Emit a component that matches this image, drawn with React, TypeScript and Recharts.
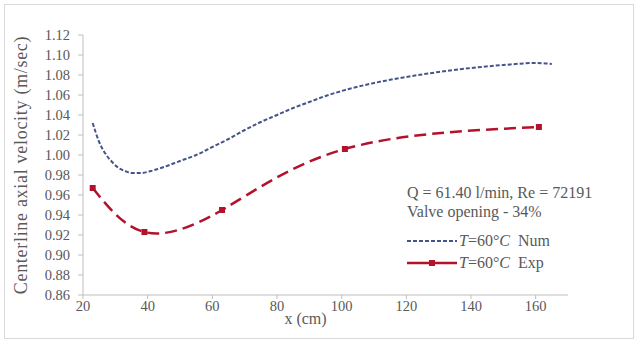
import React from "react";
import { Line, LineChart, XAxis, YAxis } from "recharts";

// numerical prediction (dashed blue)
const numX = [23, 25, 27, 29, 31, 33, 35, 38, 41, 45, 50, 55, 60, 65, 70, 75, 80, 85, 90, 95, 100, 110, 120, 130, 140, 150, 160, 165];
const numV = [1.032, 1.013, 1.001, 0.993, 0.987, 0.984, 0.982, 0.982, 0.984, 0.988, 0.994, 1.0, 1.008, 1.016, 1.025, 1.033, 1.04, 1.047, 1.053, 1.059, 1.064, 1.072, 1.078, 1.083, 1.087, 1.09, 1.092, 1.091];

// experiment (red, markers)
const expX = [23, 39, 63, 101, 161];
const expV = [0.967, 0.923, 0.945, 1.006, 1.028];

const xTicks = [20, 40, 60, 80, 100, 120, 140, 160];
const yTicks = [0.86, 0.88, 0.9, 0.92, 0.94, 0.96, 0.98, 1.0, 1.02, 1.04, 1.06, 1.08, 1.1, 1.12];

const numData = numX.map((x, i) => ({ x, v: numV[i] }));
const expData = expX.map((x, i) => ({ x, v: expV[i] }));

const FONT = '"Liberation Serif", serif';
const TEXT = "#595959";
const AXIS = "#bfbfbf";
const BLUE = "#45558a";
const RED = "#b3122c";

const Square = (props: any) => {
  const { cx, cy, index } = props;
  return <rect key={`m-${index}`} x={cx - 3} y={cy - 3} width={6} height={6} fill={RED} />;
};

// annotation + legend box, placed over the plot like in the original
const Note = () => (
  <div
    style={{
      position: "absolute",
      left: 407,
      top: 183,
      fontFamily: FONT,
      fontSize: 16,
      color: TEXT,
      lineHeight: "19px",
      whiteSpace: "nowrap",
    }}
  >
    <div>Q = 61.40 l/min, Re = 72191</div>
    <div>Valve opening - 34%</div>
    <div style={{ display: "flex", alignItems: "center", marginTop: 10 }}>
      <svg width={50} height={8}>
        <line x1={0} y1={4} x2={50} y2={4} stroke={BLUE} strokeWidth={2} strokeDasharray="4 2" />
      </svg>
      <span style={{ marginLeft: 2 }}>
        <i>T</i>=60°<i>C</i>&nbsp; Num
      </span>
    </div>
    <div style={{ display: "flex", alignItems: "center", marginTop: 3 }}>
      <svg width={50} height={8}>
        <line x1={0} y1={4} x2={50} y2={4} stroke={RED} strokeWidth={2.5} />
        <rect x={22} y={1} width={6} height={6} fill={RED} />
      </svg>
      <span style={{ marginLeft: 2 }}>
        <i>T</i>=60°<i>C</i>&nbsp; Exp
      </span>
    </div>
  </div>
);

export default function App() {
  return (
    <div style={{ position: "absolute", left: 0, top: 0, width: 638, height: 344, background: "#fff" }}>
      <div
        style={{
          position: "absolute",
          left: 4,
          top: 4,
          width: 628,
          height: 333,
          border: "1px solid #d9d9d9",
        }}
      />
      <LineChart
        width={638}
        height={344}
        margin={{ top: 35, right: 70, left: 38, bottom: 19 }}
        style={{ fontFamily: FONT }}
      >
        <XAxis
          dataKey="x"
          type="number"
          domain={[20, 170]}
          ticks={xTicks}
          allowDataOverflow
          height={30}
          tick={{ fontSize: 14.5, fill: TEXT }}
          tickSize={4}
          stroke={AXIS}
          label={{ value: "x (cm)", position: "insideBottom", offset: 1, dx: -20, fill: TEXT, fontSize: 16 }}
        />
        <YAxis
          type="number"
          domain={[0.86, 1.12]}
          ticks={yTicks}
          interval={0}
          width={45}
          tick={{ fontSize: 14.5, fill: TEXT }}
          tickFormatter={(v: number) => v.toFixed(2)}
          tickSize={5}
          tickMargin={8}
          stroke={AXIS}
          label={{
            value: "Centerline axial velocity  (m/sec)",
            angle: -90,
            position: "insideLeft",
            dx: -22,
            fill: TEXT,
            fontSize: 18,
            style: { textAnchor: "middle", letterSpacing: 0.7 },
          }}
        />
        <Line
          data={numData}
          dataKey="v"
          type="monotone"
          stroke={BLUE}
          strokeWidth={2}
          strokeDasharray="4 2"
          dot={false}
          isAnimationActive={false}
        />
        <Line
          data={expData}
          dataKey="v"
          type="natural"
          stroke={RED}
          strokeWidth={2.5}
          strokeDasharray="12 6"
          dot={Square}
          isAnimationActive={false}
        />
      </LineChart>
      <Note />
    </div>
  );
}
